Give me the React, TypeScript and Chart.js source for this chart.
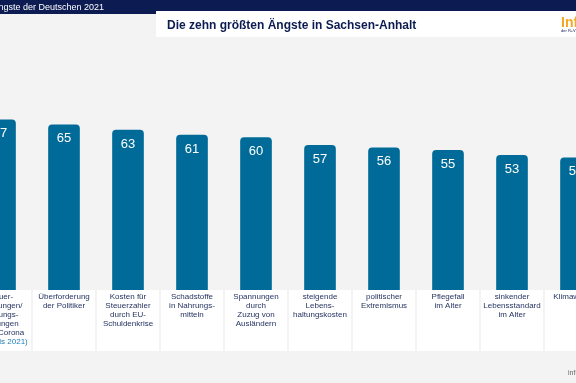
import { useEffect, useRef } from 'react';
import { Chart, registerables } from 'chart.js';
Chart.register(...registerables);

// ---- data ----
const categories: string[][] = [
  ['Steuer-', 'erhöhungen/', 'Leistungs-', 'kürzungen', 'durch Corona'],
  ['Überforderung', 'der Politiker'],
  ['Kosten für', 'Steuerzahler', 'durch EU-', 'Schuldenkrise'],
  ['Schadstoffe', 'in Nahrungs-', 'mitteln'],
  ['Spannungen', 'durch', 'Zuzug von', 'Ausländern'],
  ['steigende', 'Lebens-', 'haltungskosten'],
  ['politischer', 'Extremismus'],
  ['Pflegefall', 'im Alter'],
  ['sinkender', 'Lebensstandard', 'im Alter'],
  ['Klimawandel'],
];
const notes: string[] = ['(erstmals 2021)', '', '', '', '', '', '', '', '', ''];
const values: number[] = [67, 65, 63, 61, 60, 57, 56, 55, 53, 52];
const titleText = 'Die zehn größten Ängste in Sachsen-Anhalt';
const headerText = 'Die Ängste der Deutschen 2021';
const logoText = 'Infocenter';
const logoSub = 'der R+V Versicherung';
const footerText = 'infocenter';

const OX = 32; // canvas is shifted left by this amount
const W = 640;
const H = 383;
const FONT = '"Liberation Sans", Arial, sans-serif';
const NAVY = '#0c1c52';
const BAR = '#006b99';

const decor = {
  id: 'decor',
  beforeDraw(chart: any) {
    const ctx = chart.ctx;
    ctx.save();
    ctx.fillStyle = '#f3f3f3';
    ctx.fillRect(0, 0, W, H);
    const xs = chart.scales.x;
    ctx.fillStyle = '#ffffff';
    categories.forEach((_, i) => {
      const x = xs.getPixelForValue(i);
      ctx.fillRect(x - 31, 290, 62, 61);
    });
    ctx.restore();
  },
  afterDatasetsDraw(chart: any) {
    const ctx = chart.ctx;
    const meta = chart.getDatasetMeta(0);
    ctx.save();
    ctx.textAlign = 'center';
    ctx.textBaseline = 'middle';
    ctx.fillStyle = '#ffffff';
    ctx.font = `13px ${FONT}`;
    meta.data.forEach((el: any, i: number) => {
      ctx.fillText(String(values[i]), el.x, el.y + 14);
    });
    const xs = chart.scales.x;
    ctx.font = `8px ${FONT}`;
    categories.forEach((lines, i) => {
      const x = xs.getPixelForValue(i);
      ctx.fillStyle = '#1f2d5c';
      lines.forEach((ln, j) => ctx.fillText(ln, x, 297 + j * 9));
      if (notes[i]) {
        ctx.fillStyle = '#1a7fb5';
        ctx.fillText(notes[i], x, 297 + lines.length * 9);
      }
    });
    ctx.restore();
  },
  afterDraw(chart: any) {
    const ctx = chart.ctx;
    ctx.save();
    // top navy band
    ctx.fillStyle = NAVY;
    ctx.fillRect(0, 0, W, 14);
    ctx.fillStyle = '#ffffff';
    ctx.font = `9px ${FONT}`;
    ctx.textAlign = 'right';
    ctx.textBaseline = 'alphabetic';
    ctx.fillText(headerText, 104 + OX, 10);
    // title box
    ctx.fillStyle = '#ffffff';
    ctx.fillRect(156 + OX, 11, W, 26);
    ctx.fillStyle = NAVY;
    ctx.font = `bold 12px ${FONT}`;
    ctx.textAlign = 'left';
    ctx.fillText(titleText, 167 + OX, 28.5);
    // logo
    ctx.fillStyle = '#f5a623';
    ctx.font = `bold 14px ${FONT}`;
    ctx.fillText(logoText, 561 + OX, 27);
    ctx.fillStyle = NAVY;
    ctx.font = `4px ${FONT}`;
    ctx.fillText(logoSub, 561 + OX, 32);
    // footer
    ctx.fillStyle = '#666666';
    ctx.font = `7px ${FONT}`;
    ctx.fillText(footerText, 568 + OX, 375);
    ctx.restore();
  },
};

export default function App() {
  const ref = useRef<HTMLCanvasElement>(null);
  useEffect(() => {
    const chart = new Chart(ref.current!, {
      type: 'bar',
      data: {
        labels: categories.map((c) => c.join(' ')),
        datasets: [
          {
            data: values,
            backgroundColor: BAR,
            borderRadius: { topLeft: 4, topRight: 4, bottomLeft: 0, bottomRight: 0 },
            borderSkipped: false,
            barThickness: 31,
          },
        ],
      },
      options: {
        responsive: false,
        animation: false,
        layout: { padding: { top: 36, bottom: 93, left: 0, right: 0 } },
        plugins: { legend: { display: false }, tooltip: { enabled: false } },
        scales: {
          x: { display: false, offset: true },
          y: { display: false, min: 0, max: 100 },
        },
      },
      plugins: [decor],
    });
    return () => chart.destroy();
  }, []);
  return (
    <div style={{ position: 'fixed', left: 0, top: 0, width: 576, height: 383, overflow: 'hidden', background: '#f3f3f3' }}>
      <canvas ref={ref} width={W} height={H} style={{ position: 'absolute', left: -OX, top: 0, width: W, height: H }} />
    </div>
  );
}
